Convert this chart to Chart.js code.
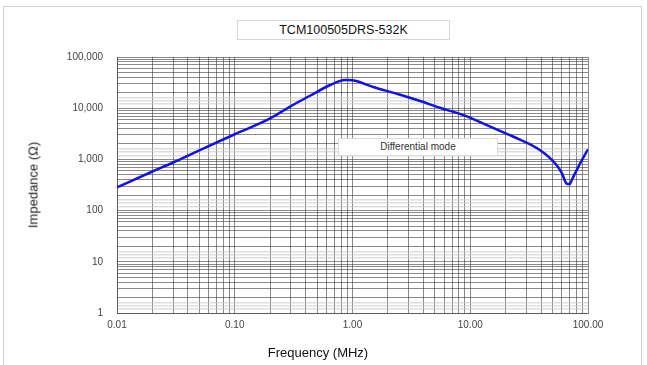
<!DOCTYPE html>
<html>
<head>
<meta charset="utf-8">
<script src="https://cdn.jsdelivr.net/npm/chart.js@4"></script>
<style>
  html, body { margin: 0; padding: 0; background: #fff; }
  #wrap { position: relative; width: 647px; height: 365px; overflow: hidden; font-family: "Liberation Sans", Arial, sans-serif; }
  #frame { position: absolute; left: 3px; top: 6px; width: 637px; height: 380px; border: 1px solid #d0d0d0; }
  #chart-title { position: absolute; left: 237px; top: 20px; width: 211px; height: 18px; border: 1px solid #d8d8d8; background: #fff;
    font-size: 12.5px; line-height: 18px; text-align: center; color: #111; }
  #mode-label { position: absolute; left: 338px; top: 138px; width: 158px; height: 16px; border: 1px solid #dcdcdc; background: #fff;
    font-size: 10px; line-height: 16px; text-align: center; color: #333; }
  #y-title { position: absolute; left: 33px; top: 185px; transform: translate(-50%, -50%) rotate(-90deg); white-space: nowrap; font-size: 13px; color: #222; }
  #x-title { position: absolute; left: 318px; top: 352px; transform: translate(-50%, -50%); white-space: nowrap; font-size: 13px; color: #111; }
  canvas { position: absolute; left: 0; top: 0; }
</style>
</head>
<body>
<div id="wrap">
  <div id="frame"></div>
  <canvas id="imp-chart" width="647" height="365"></canvas>
  <div id="chart-title">TCM100505DRS-532K</div>
  <div id="mode-label">Differential mode</div>
  <div id="y-title">Impedance (Ω)</div>
  <div id="x-title">Frequency (MHz)</div>
</div>
<script>
// 讀圖估計的數值 (log-log)
const freqMHz = [0.01, 0.02, 0.03, 0.05, 0.1, 0.2, 0.3, 0.436, 0.645, 0.865, 1.0, 1.5, 2.5, 3.75, 5.5, 8.75, 14.8, 23, 39, 54, 60, 66, 70, 73, 83, 100];
const impedanceOhm = [285, 580, 870, 1500, 3100, 6300, 11000, 17500, 28400, 35500, 35000, 26000, 18500, 13800, 10200, 7300, 4350, 2800, 1520, 780, 540, 335, 330, 400, 725, 1580];

const xDecades = [0.01, 0.1, 1, 10, 100];
const xTickLabels = ['0.01', '0.10', '1.00', '10.00', '100.00'];
const yDecades = [1, 10, 100, 1000, 10000, 100000];
const yTickLabels = ['1', '10', '100', '1,000', '10,000', '100,000'];
const lightSteps = [1.2, 1.4, 1.6]; // 淺灰色輔助格線

let chart = null;

function minorTicks(decades, steps) {
  const out = [];
  decades.forEach((d, i) => {
    if (i === decades.length - 1) { out.push({ value: d }); return; }
    steps.forEach(s => out.push({ value: d * s }));
  });
  return out;
}

function labelFor(value, decades, labels) {
  const i = decades.findIndex(d => Math.abs(d - value) / d < 1e-6);
  return i >= 0 ? labels[i] : '';
}

document.addEventListener("DOMContentLoaded", () => {
  const ctx = document.getElementById('imp-chart').getContext('2d');
  const gridDark = 'rgba(60,60,60,0.6)';

  chart = new Chart(ctx, {
    type: 'line',
    data: {
      datasets: [{
        label: 'Differential mode',
        data: freqMHz.map((f, i) => ({ x: f, y: impedanceOhm[i] })),
        borderColor: '#1010f0',
        borderWidth: 2.5,
        pointRadius: 0,
        fill: false,
        cubicInterpolationMode: 'monotone'
      }]
    },
    options: {
      responsive: false,
      animation: false,
      layout: { padding: { top: 57, right: 59, left: 0, bottom: 0 } },
      plugins: { legend: { display: false }, title: { display: false }, tooltip: { enabled: false } },
      scales: {
        x: {
          type: 'logarithmic',
          min: 0.01, max: 100,
          afterBuildTicks: s => { s.ticks = minorTicks(xDecades, [1, 2, 3, 4, 5, 6, 7, 8, 9]); },
          afterFit: s => { s.height = 52; },
          grid: { color: gridDark, lineWidth: 1, drawTicks: false },
          border: { color: gridDark },
          ticks: {
            autoSkip: false, maxRotation: 0, padding: 6,
            color: '#444', font: { family: 'Liberation Sans', size: 10 },
            callback: v => labelFor(v, xDecades, xTickLabels)
          }
        },
        y: {
          type: 'logarithmic',
          min: 1, max: 100000,
          afterBuildTicks: s => { s.ticks = minorTicks(yDecades, [1, 2, 3, 4, 5, 6, 7, 8, 9]); },
          afterFit: s => { s.width = 117; },
          grid: { color: gridDark, lineWidth: 1, drawTicks: false },
          border: { color: gridDark },
          ticks: {
            autoSkip: false, padding: 14,
            color: '#444', font: { family: 'Liberation Sans', size: 10 },
            callback: v => labelFor(v, yDecades, yTickLabels)
          }
        },
        y2: {
          type: 'logarithmic',
          position: 'right',
          min: 1, max: 100000,
          afterBuildTicks: s => { s.ticks = minorTicks(yDecades, lightSteps).filter(t => t.value < 100000); },
          afterFit: s => { s.width = 0; },
          grid: { color: 'rgba(200,200,200,0.6)', lineWidth: 1.5, drawTicks: false },
          border: { display: false },
          ticks: { display: false }
        }
      }
    }
  });
});
</script>
</body>
</html>
